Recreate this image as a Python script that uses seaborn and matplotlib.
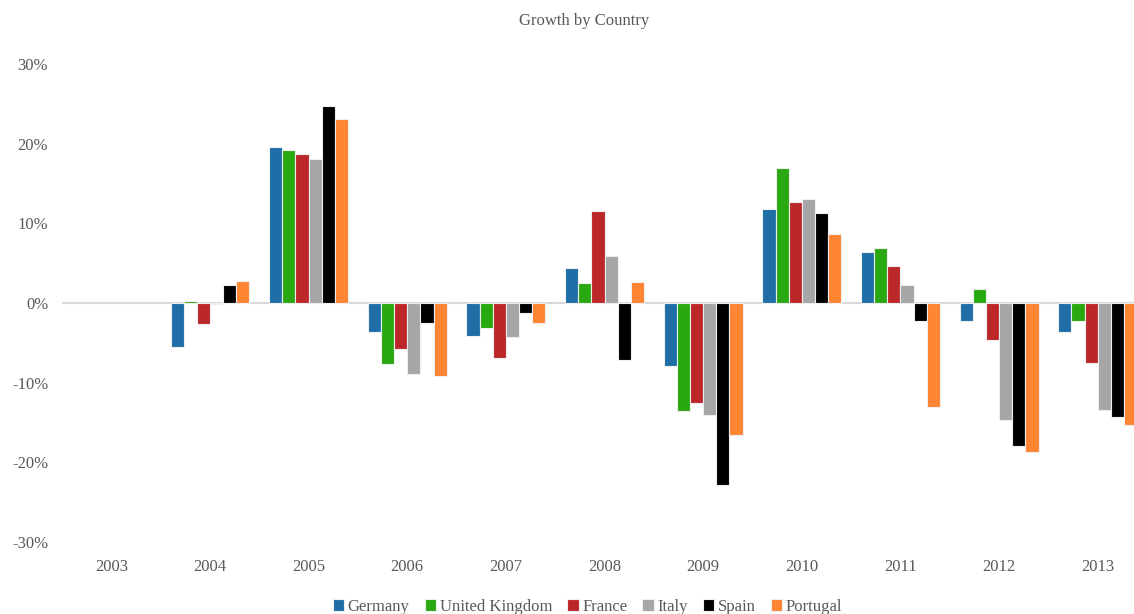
import numpy as np
import pandas as pd
import matplotlib
matplotlib.use("Agg")
import matplotlib.pyplot as plt
import seaborn as sns
from matplotlib.ticker import FuncFormatter

# ─────────────────────────────────────────────
# DATA (growth in %)
# ─────────────────────────────────────────────
years = ["2003", "2004", "2005", "2006", "2007", "2008",
         "2009", "2010", "2011", "2012", "2013"]
countries = ["Germany", "United Kingdom", "France", "Italy", "Spain", "Portugal"]

germany  = [np.nan, -5.5, 19.6, -3.6, -4.1,  4.4,  -7.9, 11.8,  6.4,  -2.3,  -3.7]
uk       = [np.nan,  0.2, 19.2, -7.6, -3.1,  2.5, -13.6, 17.0,  6.9,   1.7,  -2.3]
france   = [np.nan, -2.6, 18.7, -5.8, -6.9, 11.6, -12.6, 12.7,  4.7,  -4.7,  -7.5]
italy    = [np.nan, -0.1, 18.1, -8.9, -4.3,  5.9, -14.1, 13.0,  2.2, -14.7, -13.4]
spain    = [np.nan,  2.3, 24.7, -2.5, -1.2, -7.1, -22.8, 11.3, -2.3, -17.9, -14.3]
portugal = [np.nan,  2.7, 23.1, -9.2, -2.5,  2.6, -16.6,  8.7, -13.1, -18.7, -15.3]

colors = ["#1f6ea7", "#2aa80f", "#bc282a", "#a6a6a6", "#000000", "#ff8533"]

series = [germany, uk, france, italy, spain, portugal]
df = pd.DataFrame({
    "year": np.tile(years, len(countries)),
    "country": np.repeat(countries, len(years)),
    "growth": np.concatenate(series),
})

# ─────────────────────────────────────────────
# PLOT
# ─────────────────────────────────────────────
sns.set_style("white")
plt.rcParams["font.family"] = ["Liberation Serif", "DejaVu Serif"]
text_col = "#595959"

fig = plt.figure(figsize=(11.34, 6.14), dpi=100)
ax = fig.add_axes([0.0547, 0.1173, 0.9568, 0.7785])

sns.barplot(data=df, x="year", y="growth", hue="country", order=years,
            hue_order=countries, palette=dict(zip(countries, colors)),
            saturation=1, width=0.8, edgecolor="#eeeeee", linewidth=0.8,
            ax=ax)

ax.axhline(0, color="#d9d9d9", linewidth=1.5, zorder=0)
ax.set_ylim(-30, 30)
ax.set_yticks([-30, -20, -10, 0, 10, 20, 30])
ax.yaxis.set_major_formatter(FuncFormatter(lambda v, p: f"{v:.0f}%"))
ax.set_xlabel("")
ax.set_ylabel("")
for s in ax.spines.values():
    s.set_visible(False)
ax.tick_params(axis="both", length=0, labelsize=12, colors=text_col)
ax.tick_params(axis="y", pad=10)
ax.tick_params(axis="x", pad=12)

handles, labels = ax.get_legend_handles_labels()
ax.get_legend().remove()
fig.legend(handles, labels, loc="center", bbox_to_anchor=(0.518, 0.012),
           ncol=6, frameon=False, fontsize=12, labelcolor=text_col,
           handlelength=0.7, handleheight=0.7, handletextpad=0.2,
           columnspacing=0.9)

fig.text(0.515, 0.965, "Growth by Country", ha="center", va="center",
         fontsize=12, color=text_col)

fig.savefig("out.png", dpi=100)
